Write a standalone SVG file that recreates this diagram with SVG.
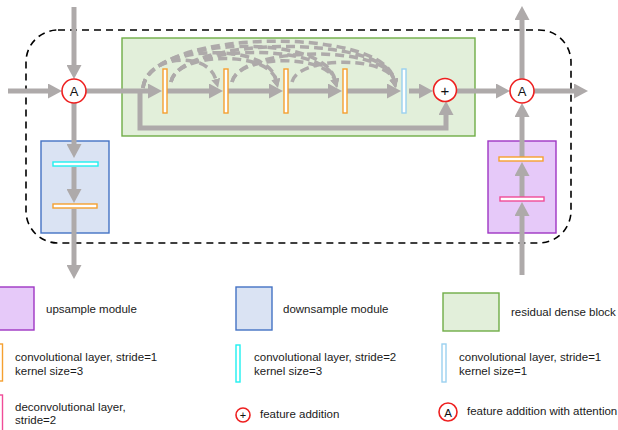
<svg xmlns="http://www.w3.org/2000/svg" width="618" height="430" viewBox="0 0 618 430">
<style>
.ln{fill:none;stroke:#aeaaaa;stroke-width:5}
.dl{fill:none;stroke:#aeaaaa;stroke-width:3.5;stroke-dasharray:9 5}
.crc{fill:#fff;stroke:#ee2020;stroke-width:1.6}
.ct{font-family:"Liberation Sans",Arial,sans-serif;fill:#111;text-anchor:middle}
.lt{font-family:"Liberation Sans",Arial,sans-serif;font-size:11.5px;fill:#1a1a1a}
.or{fill:#fff;stroke:#f5a030;stroke-width:1.4}
.cy{fill:#fff;stroke:#20f0f0;stroke-width:1.4}
.lb{fill:#fff;stroke:#9ad0f0;stroke-width:1.4}
.pk{fill:#fff;stroke:#f04c98;stroke-width:1.4}
</style>
<defs>
<marker id="ah" viewBox="0 0 14 15" markerWidth="14" markerHeight="15" markerUnits="userSpaceOnUse" refX="1" refY="7.5" orient="auto"><path d="M0,0 L14,7.5 L0,15 z" fill="#aeaaaa"/></marker>
<marker id="sh" viewBox="0 0 9 9" markerWidth="9" markerHeight="9" markerUnits="userSpaceOnUse" refX="1" refY="4.5" orient="auto"><path d="M0,0 L9,4.5 L0,9 z" fill="#aeaaaa"/></marker>
</defs>

<g id="frame">
<rect x="26" y="30" width="545" height="213" rx="32" ry="32" fill="none" stroke="#000" stroke-width="1.6" stroke-dasharray="7 5"/>
</g>

<g id="rdb">
<rect x="122" y="38" width="353" height="98" fill="#e2efda" stroke="#70ad47" stroke-width="1.4"/>
</g>
<g id="down">
<rect x="41" y="141" width="68" height="92" fill="#dae3f3" stroke="#4472c4" stroke-width="1.4"/>
</g>
<g id="up">
<rect x="488" y="141" width="68" height="92" fill="#e6c9f9" stroke="#9e36c4" stroke-width="1.4"/>
</g>

<g id="connectors">
<path class="ln" d="M74,7 V66" marker-end="url(#ah)"/>
<path class="ln" d="M8,91 H49" marker-end="url(#ah)"/>
<path class="ln" d="M86,91 H149" marker-end="url(#ah)"/>
<path class="ln" d="M140,91 V128 H446 V114" marker-end="url(#ah)"/>
<path class="ln" d="M167,91 H210" marker-end="url(#ah)"/>
<path class="ln" d="M228,91 H270" marker-end="url(#ah)"/>
<path class="ln" d="M288,91 H329" marker-end="url(#ah)"/>
<path class="ln" d="M347,91 H388" marker-end="url(#ah)"/>
<path class="ln" d="M409,91 H420" marker-end="url(#ah)"/>
<path class="ln" d="M457,91 H497" marker-end="url(#ah)"/>
<path class="ln" d="M534,91 H575" marker-end="url(#ah)"/>
<path class="ln" d="M522,79 V19" marker-end="url(#ah)"/>
<path class="ln" d="M522,275 V215" marker-end="url(#ah)"/>
<path class="ln" d="M522,197 V175" marker-end="url(#ah)"/>
<path class="ln" d="M522,157 V116" marker-end="url(#ah)"/>
<path class="ln" d="M74,103 V145" marker-end="url(#ah)"/>
<path class="ln" d="M74,167 V190" marker-end="url(#ah)"/>
<path class="ln" d="M74,209 V266" marker-end="url(#ah)"/>

<path class="dl" d="M143,88 C146,55 208,50 216,80" marker-end="url(#sh)"/>
<path class="dl" d="M143,88 C146,45 268,40 276,80" marker-end="url(#sh)"/>
<path class="dl" d="M143,88 C148,36 326,32 335,80" marker-end="url(#sh)"/>
<path class="dl" d="M143,88 C150,28 386,26 394,80" marker-end="url(#sh)"/>
<path class="dl" d="M171,82 C176,52 268,50 276,80" marker-end="url(#sh)"/>
<path class="dl" d="M171,82 C178,44 326,42 335,80" marker-end="url(#sh)"/>
<path class="dl" d="M171,82 C180,36 386,34 394,80" marker-end="url(#sh)"/>
<path class="dl" d="M232,82 C238,54 326,54 335,80" marker-end="url(#sh)"/>
<path class="dl" d="M232,82 C240,46 386,44 394,80" marker-end="url(#sh)"/>
<path class="dl" d="M292,82 C298,56 386,56 394,80" marker-end="url(#sh)"/>
</g>

<g id="A-in">
<circle class="crc" cx="74" cy="91" r="12"/>
<text class="ct" x="74" y="96" font-size="13">A</text>
</g>
<g id="conv1"><rect class="or" x="163" y="69" width="4" height="44"/></g>
<g id="conv2"><rect class="or" x="224" y="69" width="4" height="44"/></g>
<g id="conv3"><rect class="or" x="284" y="69" width="4" height="44"/></g>
<g id="conv4"><rect class="or" x="343" y="69" width="4" height="44"/></g>
<g id="conv1x1"><rect class="lb" x="402" y="69" width="4" height="44"/></g>
<g id="plus">
<circle class="crc" cx="445" cy="90" r="11.5"/>
<text class="ct" x="445" y="95.5" font-size="15">+</text>
</g>
<g id="A-out">
<circle class="crc" cx="522" cy="91" r="12"/>
<text class="ct" x="522" y="96" font-size="13">A</text>
</g>
<g id="down-conv2"><rect class="cy" x="53" y="162" width="45" height="4"/></g>
<g id="down-conv1"><rect class="or" x="53" y="204" width="44" height="4"/></g>
<g id="up-conv"><rect class="or" x="499" y="157" width="44" height="4"/></g>
<g id="up-deconv"><rect class="pk" x="500" y="197" width="44" height="4"/></g>

<g id="legend">
<rect x="-2" y="287" width="36" height="43" fill="#e6c9f9" stroke="#9e36c4" stroke-width="1.4"/>
<text class="lt" x="46" y="313">upsample module</text>
<rect x="236" y="287" width="36" height="43" fill="#dae3f3" stroke="#4472c4" stroke-width="1.4"/>
<text class="lt" x="283" y="313">downsample module</text>
<rect x="443" y="293" width="56" height="38" fill="#e2efda" stroke="#70ad47" stroke-width="1.4"/>
<text class="lt" x="511" y="316">residual dense block</text>
<rect class="or" x="-2" y="344" width="4.5" height="37"/>
<text class="lt" x="15" y="361">convolutional layer, stride=1</text>
<text class="lt" x="15" y="375">kernel size=3</text>
<rect class="cy" x="236" y="345" width="4" height="37"/>
<text class="lt" x="254" y="361">convolutional layer, stride=2</text>
<text class="lt" x="254" y="375">kernel size=3</text>
<rect class="lb" x="442" y="344" width="4" height="38"/>
<text class="lt" x="459" y="361">convolutional layer, stride=1</text>
<text class="lt" x="459" y="375">kernel size=1</text>
<rect class="pk" x="-2" y="395" width="4.5" height="40"/>
<text class="lt" x="15" y="411">deconvolutional layer,</text>
<text class="lt" x="15" y="424">stride=2</text>
<circle class="crc" cx="243" cy="415" r="7"/>
<text class="ct" x="243" y="419" font-size="11">+</text>
<text class="lt" x="260" y="418">feature addition</text>
<circle class="crc" cx="448" cy="412" r="9"/>
<text class="ct" x="448" y="416.5" font-size="11.5">A</text>
<text class="lt" x="467" y="415">feature addition with attention</text>
</g>
</svg>
